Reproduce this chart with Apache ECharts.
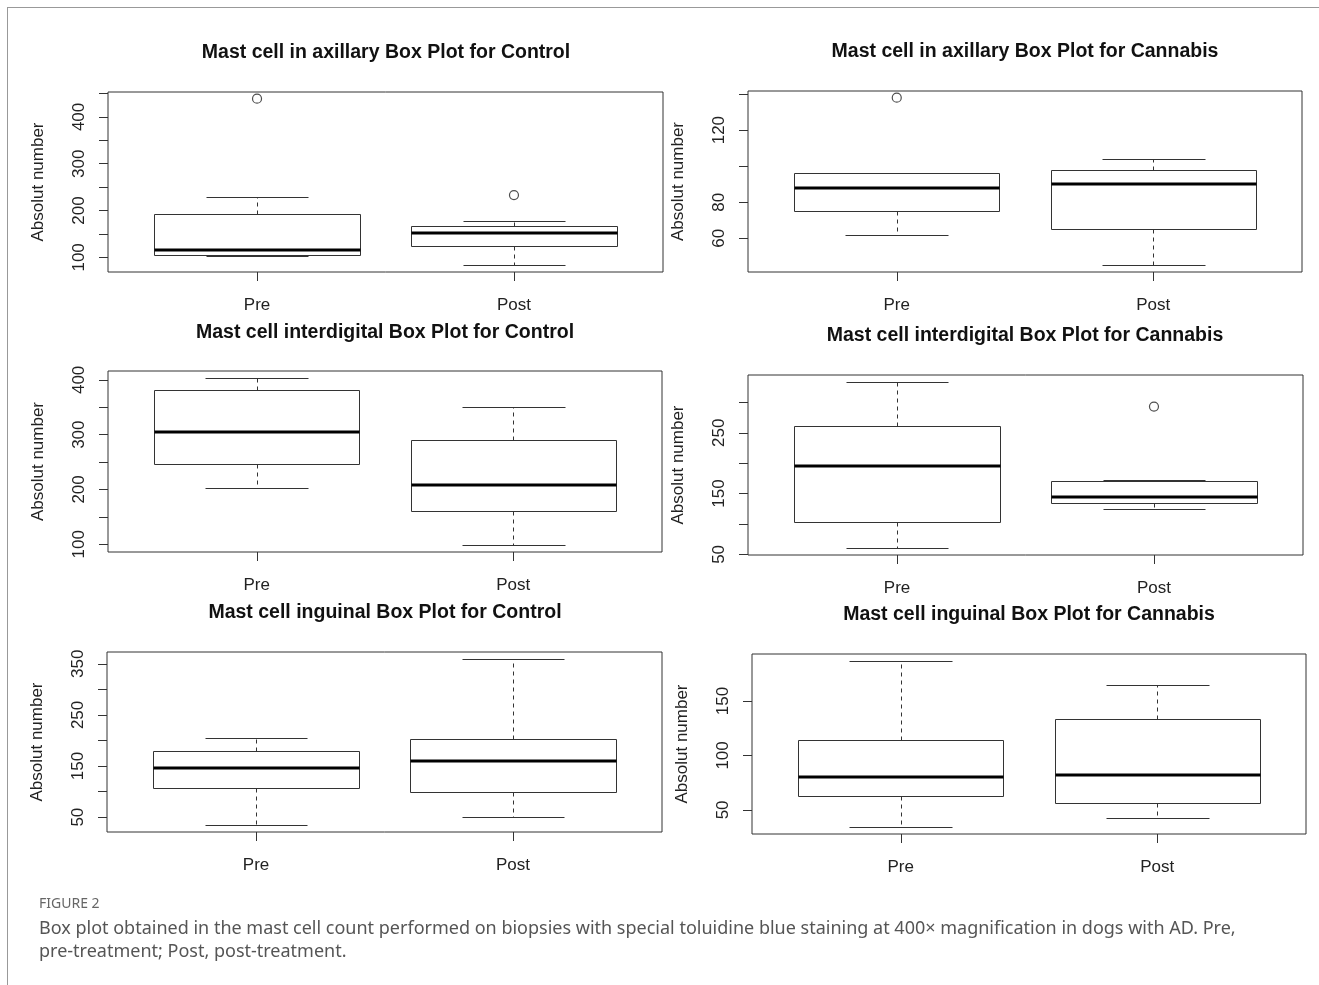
<!DOCTYPE html>
<html>
<head>
<meta charset="utf-8">
<title>Mast cell box plots</title>
<script src="https://cdn.jsdelivr.net/npm/echarts@6/dist/echarts.min.js"></script>
<style>
  html, body { margin: 0; padding: 0; background: #fff; }
  #chart { width: 1319px; height: 985px; }
</style>
</head>
<body>
<div id="chart"></div>
<script>
// categories on every panel
const categories = ["Pre", "Post"];

const titles = [
  "Mast cell in axillary Box Plot for Control",
  "Mast cell in axillary Box Plot for Cannabis",
  "Mast cell interdigital Box Plot for Control",
  "Mast cell interdigital Box Plot for Cannabis",
  "Mast cell inguinal Box Plot for Control",
  "Mast cell inguinal Box Plot for Cannabis"
];

// [min, Q1, median, Q3, max] for Pre, Post
const axillaryControl = [[103, 106, 115, 192, 229], [83, 124, 153, 167, 177]];
const axillaryCannabis = [[62, 75, 88, 96, 96], [45, 65, 90, 98, 104]];
const interdigitalControl = [[202, 246, 304, 382, 404], [98, 160, 208, 290, 350]];
const interdigitalCannabis = [[60, 103, 196, 261, 334], [124, 135, 144, 170, 172]];
const inguinalControl = [[34, 107, 146, 180, 204], [50, 99, 160, 203, 360]];
const inguinalCannabis = [[34, 63, 80, 114, 187], [43, 56, 82, 133, 165]];

// outliers, [category index (1 = Pre, 2 = Post), value]
const axillaryControlOutliers = [[1, 439], [2, 233]];
const axillaryCannabisOutliers = [[1, 138]];
const interdigitalControlOutliers = [];
const interdigitalCannabisOutliers = [[2, 293]];
const inguinalControlOutliers = [];
const inguinalCannabisOutliers = [];

// y ticks and the tick labels R kept
const axillaryControlTicks = [100, 150, 200, 250, 300, 350, 400, 450];
const axillaryControlLabels = [100, 200, 300, 400];
const axillaryCannabisTicks = [60, 80, 100, 120, 140];
const axillaryCannabisLabels = [60, 80, 120];
const interdigitalControlTicks = [100, 150, 200, 250, 300, 350, 400];
const interdigitalControlLabels = [100, 200, 300, 400];
const interdigitalCannabisTicks = [50, 100, 150, 200, 250, 300];
const interdigitalCannabisLabels = [50, 150, 250];
const inguinalControlTicks = [50, 100, 150, 200, 250, 300, 350];
const inguinalControlLabels = [50, 150, 250, 350];
const inguinalCannabisTicks = [50, 100, 150];
const inguinalCannabisLabels = [50, 100, 150];

const panels = [
  { box: axillaryControl, out: axillaryControlOutliers, ticks: axillaryControlTicks, labels: axillaryControlLabels,
    grid: { left: 108, top: 92, width: 555, height: 180 }, title: [386, 51] },
  { box: axillaryCannabis, out: axillaryCannabisOutliers, ticks: axillaryCannabisTicks, labels: axillaryCannabisLabels,
    grid: { left: 748, top: 91, width: 554, height: 181 }, title: [1025, 50] },
  { box: interdigitalControl, out: interdigitalControlOutliers, ticks: interdigitalControlTicks, labels: interdigitalControlLabels,
    grid: { left: 108, top: 371, width: 554, height: 181 }, title: [385, 331] },
  { box: interdigitalCannabis, out: interdigitalCannabisOutliers, ticks: interdigitalCannabisTicks, labels: interdigitalCannabisLabels,
    grid: { left: 748, top: 375, width: 555, height: 180 }, title: [1025, 334] },
  { box: inguinalControl, out: inguinalControlOutliers, ticks: inguinalControlTicks, labels: inguinalControlLabels,
    grid: { left: 107, top: 652, width: 555, height: 180 }, title: [385, 611] },
  { box: inguinalCannabis, out: inguinalCannabisOutliers, ticks: inguinalCannabisTicks, labels: inguinalCannabisLabels,
    grid: { left: 752, top: 654, width: 554, height: 180 }, title: [1029, 613] }
];

const ink = "#222";
const frame = "#333";
const rFont = "'Liberation Sans', Arial, sans-serif";

// R-like y range: data range padded by 4% each side
const yRange = (p) => {
  const vals = p.box.flat().concat(p.out.map((o) => o[1]));
  const lo = Math.min(...vals);
  const hi = Math.max(...vals);
  const pad = (hi - lo) * 0.04;
  return [lo - pad, hi + pad];
};

const crisp = (v) => Math.round(v) + 0.5;

function renderBox(params, api) {
  const x = api.value(0);
  const lo = api.value(1), q1 = api.value(2), med = api.value(3), q3 = api.value(4), hi = api.value(5);
  const px = (dx, v) => api.coord([x + dx, v]);
  const cx = crisp(px(0, lo)[0]);
  const boxL = crisp(px(-0.4, q1)[0]);
  const boxR = crisp(px(0.4, q1)[0]);
  const capL = crisp(px(-0.2, lo)[0]);
  const capR = crisp(px(0.2, lo)[0]);
  const y = (v) => crisp(px(0, v)[1]);
  const line = (x1, y1, x2, y2, extra) => ({
    type: "line",
    shape: { x1, y1, x2, y2 },
    style: Object.assign({ stroke: frame, lineWidth: 1 }, extra || {})
  });
  return {
    type: "group",
    children: [
      line(cx, y(q3), cx, y(hi), { lineDash: [4, 4] }),
      line(cx, y(q1), cx, y(lo), { lineDash: [4, 4] }),
      {
        type: "rect",
        shape: { x: boxL, y: y(q3), width: boxR - boxL, height: y(q1) - y(q3) },
        style: { fill: "none", stroke: frame, lineWidth: 1 }
      },
      line(boxL, Math.round(px(0, med)[1]), boxR, Math.round(px(0, med)[1]), { stroke: "#000", lineWidth: 3 }),
      line(capL, y(hi), capR, y(hi)),
      line(capL, y(lo), capR, y(lo))
    ]
  };
}

const grids = [];
const xAxes = [];
const yAxes = [];
const series = [];
const titleList = [];

panels.forEach((p, i) => {
  const [ymin, ymax] = yRange(p);
  grids.push(Object.assign({ show: true, borderColor: frame, borderWidth: 1, backgroundColor: "transparent", containLabel: false, outerBoundsMode: "none" }, p.grid));
  xAxes.push({
    type: "value",
    gridIndex: i,
    min: 0.42,
    max: 2.58,
    axisLine: { show: false },
    splitLine: { show: false },
    axisTick: { show: true, customValues: [1, 2], length: 9, lineStyle: { color: frame } },
    axisLabel: {
      customValues: [1, 2],
      formatter: (v) => categories[Math.round(v) - 1],
      fontSize: 17,
      fontFamily: rFont,
      color: ink,
      margin: 25
    }
  });
  yAxes.push({
    type: "value",
    gridIndex: i,
    min: ymin,
    max: ymax,
    name: "Absolut number",
    nameLocation: "middle",
    nameRotate: 90,
    nameGap: 61,
    nameTextStyle: { fontSize: 17, fontFamily: rFont, color: ink },
    axisLine: { show: false },
    splitLine: { show: false },
    axisTick: { show: true, customValues: p.ticks, length: 9, lineStyle: { color: frame } },
    axisLabel: {
      customValues: p.labels,
      rotate: 90,
      fontSize: 17,
      fontFamily: rFont,
      color: ink,
      margin: 20
    }
  });
  series.push({
    type: "custom",
    xAxisIndex: i,
    yAxisIndex: i,
    renderItem: renderBox,
    encode: { x: 0, y: [1, 2, 3, 4, 5] },
    data: p.box.map((b, k) => [k + 1].concat(b)),
    silent: true
  });
  series.push({
    type: "scatter",
    xAxisIndex: i,
    yAxisIndex: i,
    symbol: "circle",
    symbolSize: 9,
    itemStyle: { color: "rgba(0,0,0,0)", borderColor: "#222", borderWidth: 1.2 },
    data: p.out,
    silent: true
  });
  titleList.push({
    text: titles[i],
    left: p.title[0],
    top: p.title[1] - 8,
    padding: 0,
    textAlign: "center",
    textStyle: { fontSize: 19.5, fontWeight: "bold", fontFamily: rFont, color: "#111" }
  });
});

const chart = echarts.init(document.getElementById("chart"), null, { renderer: "canvas" });
chart.setOption({
  animation: false,
  backgroundColor: "#fff",
  title: titleList,
  grid: grids,
  xAxis: xAxes,
  yAxis: yAxes,
  series: series,
  graphic: [
    { type: "line", shape: { x1: 7, y1: 7.5, x2: 1319, y2: 7.5 }, style: { stroke: "#999", lineWidth: 1 } },
    { type: "line", shape: { x1: 7.5, y1: 7, x2: 7.5, y2: 985 }, style: { stroke: "#999", lineWidth: 1 } },
    {
      type: "text", left: 39, top: 897,
      style: { text: "FIGURE 2", fontSize: 14, fontFamily: "'Noto Sans', sans-serif", fill: "#666" }
    },
    {
      type: "text", left: 39, top: 917,
      style: {
        text: "Box plot obtained in the mast cell count performed on biopsies with special toluidine blue staining at 400\u00d7 magnification in dogs with AD. Pre,\npre-treatment; Post, post-treatment.",
        fontSize: 18, lineHeight: 23, fontFamily: "'Noto Sans', sans-serif", fill: "#555"
      }
    }
  ]
});
</script>
</body>
</html>
